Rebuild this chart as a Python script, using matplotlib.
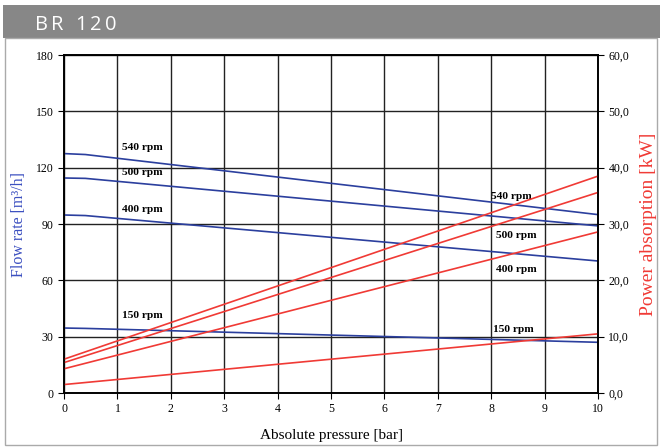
import matplotlib
matplotlib.use("Agg")
import matplotlib.pyplot as plt
from matplotlib.patches import Rectangle
from matplotlib.ticker import FuncFormatter

pressure = [0, 0.4, 10]
flow_540 = [127.5, 127.0, 95.0]
flow_500 = [114.5, 114.3, 89.0]
flow_400 = [94.8, 94.5, 70.3]
flow_150 = [34.6, 34.4, 27.0]

power_x = [0, 10]
power_540 = [6.0, 38.5]
power_500 = [5.4, 35.6]
power_400 = [4.3, 28.6]
power_150 = [1.5, 10.5]

x_ticks = list(range(0, 11))
flow_ticks = [0, 30, 60, 90, 120, 150, 180]
power_ticks = [0, 10, 20, 30, 40, 50, 60]

title = "BR 120"

serif = "Liberation Serif"
blue = "#2b3f9e"
red = "#f03a35"

fig = plt.figure(figsize=(6.6, 4.48), dpi=100)

# header band and frame
fig.patches.append(Rectangle((3/660, 1-38/448), 657/660, 33/448, transform=fig.transFigure,
                             facecolor="#878787", edgecolor="none", zorder=0))
fig.patches.append(Rectangle((5/660, 3/448), 652/660, (448-41)/448, transform=fig.transFigure,
                             facecolor="none", edgecolor="#aaaaaa", lw=1.0, zorder=0))

# letter-spaced title
renderer = fig.canvas.get_renderer()
xpos = 35.0
for ch in title:
    t = fig.text(xpos/660, 1-24.5/448, ch, color="white", fontsize=14.5, family="Open Sans",
                 va="center", ha="left")
    if ch == " ":
        w = 6.0
    else:
        w = t.get_window_extent(renderer).width
    xpos += w + 3.0

ax = fig.add_axes([64/660, 1-393/448, 534/660, 338/448])
ax.set_xlim(0, 10)
ax.set_ylim(0, 180)
ax.set_xticks(x_ticks)
ax.set_yticks(flow_ticks)
ax.grid(True, color="#222222", lw=1.0)
ax.set_axisbelow(True)
for s in ax.spines.values():
    s.set_color("black")
    s.set_linewidth(1.2)
ax.tick_params(axis="both", direction="out", length=4, labelsize=8.5, color="black")
for lab in ax.get_xticklabels() + ax.get_yticklabels():
    lab.set_family(serif)

ax.plot(pressure, flow_540, color=blue, lw=1.2)
ax.plot(pressure, flow_500, color=blue, lw=1.2)
ax.plot(pressure, flow_400, color=blue, lw=1.2)
ax.plot(pressure, flow_150, color=blue, lw=1.2)

ax.set_xlabel("Absolute pressure [bar]", family=serif, fontsize=11, labelpad=10)
ax.set_ylabel("Flow rate [m³/h]", family=serif, fontsize=11.5, color="#3b4fc0", labelpad=6)

ax2 = ax.twinx()
ax2.set_ylim(0, 60)
ax2.set_yticks(power_ticks)
ax2.yaxis.set_major_formatter(FuncFormatter(lambda v, p: f"{v:.1f}".replace(".", ",")))
ax2.tick_params(axis="y", direction="out", length=4, labelsize=8.5)
for lab in ax2.get_yticklabels():
    lab.set_family(serif)
for s in ax2.spines.values():
    s.set_linewidth(1.2)
ax2.plot(power_x, power_540, color=red, lw=1.2)
ax2.plot(power_x, power_500, color=red, lw=1.2)
ax2.plot(power_x, power_400, color=red, lw=1.2)
ax2.plot(power_x, power_150, color=red, lw=1.2)
ax2.set_ylabel("Power absorption [kW]", family=serif, fontsize=14, color=red, labelpad=8)

lab_kw = dict(family=serif, fontsize=8.2, fontweight="bold", color="black", va="center", ha="left")
ax.text(1.08, 130.5, "540 rpm", **lab_kw)
ax.text(1.08, 117.5, "500 rpm", **lab_kw)
ax.text(1.08, 97.5, "400 rpm", **lab_kw)
ax.text(1.08, 41.5, "150 rpm", **lab_kw)
ax.text(8.0, 104.5, "540 rpm", **lab_kw)
ax.text(8.09, 84.0, "500 rpm", **lab_kw)
ax.text(8.09, 66.0, "400 rpm", **lab_kw)
ax.text(8.03, 34.0, "150 rpm", **lab_kw)

fig.savefig("out.png", dpi=100)
